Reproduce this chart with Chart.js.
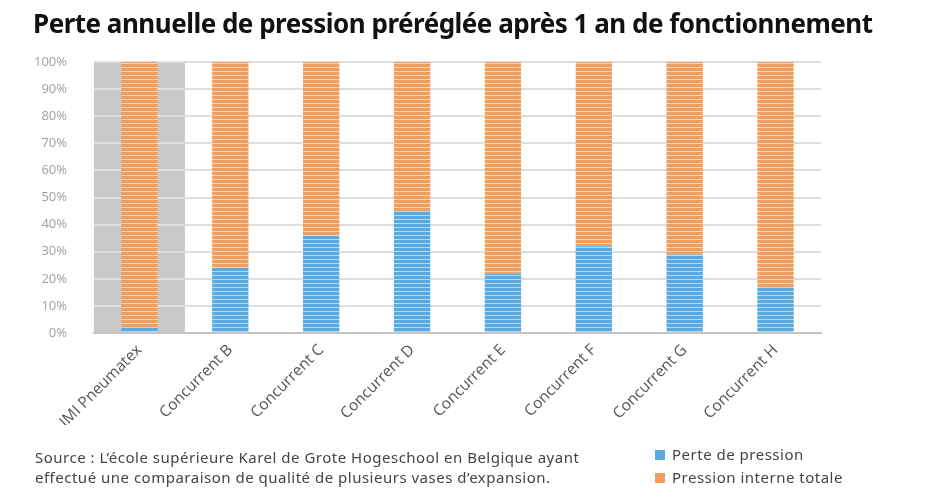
<!DOCTYPE html>
<html lang="fr">

<head>
  <meta charset="UTF-8">
  <title>Perte annuelle de pression</title>
  <script src="https://cdn.jsdelivr.net/npm/chart.js"></script>
  <style>
    body { margin: 0; background: #fff; }
    .wrap { position: relative; width: 930px; height: 500px; overflow: hidden; }
    .wrap canvas { position: absolute; left: 0; top: 0; }
    h1 {
      position: absolute; left: 33px; top: 5px; margin: 0;
      font: 700 26px "Noto Sans", sans-serif; color: #111; letter-spacing: -0.5px;
    }
    .source {
      position: absolute; left: 35px; top: 447px;
      font: 15px "Noto Sans", sans-serif; color: #444; line-height: 20px; letter-spacing: 0.5px;
    }
    .legend {
      position: absolute; left: 655px; top: 443px;
      font: 15px "Noto Sans", sans-serif; color: #444; line-height: 23px; letter-spacing: 0.5px;
    }
    .legend span.box { display: inline-block; width: 10px; height: 10px; margin-right: 7px; }
  </style>
</head>

<body>
  <div class="wrap">
    <canvas id="chart" width="930" height="500"></canvas>
    <h1>Perte annuelle de pression préréglée après 1 an de fonctionnement</h1>
    <div class="source">Source : L’école supérieure Karel de Grote Hogeschool en Belgique ayant<br>effectué une comparaison de qualité de plusieurs vases d’expansion.</div>
    <div class="legend">
      <div><span class="box" style="background:#5aa9e0"></span>Perte de pression</div>
      <div><span class="box" style="background:#ee9f5f"></span>Pression interne totale</div>
    </div>
  </div>

  <script>
    const categories = ['IMI Pneumatex', 'Concurrent B', 'Concurrent C', 'Concurrent D',
      'Concurrent E', 'Concurrent F', 'Concurrent G', 'Concurrent H'];
    const perteValues = [2, 24, 36, 45, 22, 32, 29, 17];
    const pressionValues = [98, 76, 64, 55, 78, 68, 71, 83];
    const yTicks = [0, 10, 20, 30, 40, 50, 60, 70, 80, 90, 100];

    // striped fill like the original bars
    function stripes(base, light) {
      const c = document.createElement('canvas');
      c.width = 4; c.height = 4;
      const g = c.getContext('2d');
      g.fillStyle = base; g.fillRect(0, 0, 4, 4);
      g.fillStyle = light; g.fillRect(0, 3, 4, 1);
      return g.createPattern(c, 'repeat');
    }

    // grey band behind the first category
    const bandPlugin = {
      id: 'band',
      beforeDraw(chart) {
        const { ctx, chartArea, scales } = chart;
        const right = scales.x.getPixelForValue(0.5);
        ctx.save();
        ctx.fillStyle = '#c8c8c8';
        ctx.fillRect(chartArea.left, chartArea.top, right - chartArea.left, chartArea.bottom - chartArea.top);
        ctx.restore();
      }
    };

    new Chart(document.getElementById('chart'), {
      type: 'bar',
      data: {
        labels: categories,
        datasets: [{
          label: 'Perte de pression',
          data: perteValues,
          backgroundColor: stripes('#5aa9e0', '#b3d9f3'),
          borderWidth: 0,
          barPercentage: 0.4,
          categoryPercentage: 1
        }, {
          label: 'Pression interne totale',
          data: pressionValues,
          backgroundColor: stripes('#ee9f5f', '#f8d4b2'),
          borderWidth: 0,
          barPercentage: 0.4,
          categoryPercentage: 1
        }]
      },
      options: {
        responsive: false,
        animation: false,
        layout: { padding: { left: 30, right: 109, top: 62, bottom: 75 } },
        plugins: { legend: { display: false }, title: { display: false }, tooltip: { enabled: false } },
        scales: {
          x: {
            stacked: true,
            afterFit: s => { s.height = 92; },
            grid: { display: false },
            border: { color: '#c4c4c4', width: 2 },
            ticks: {
              minRotation: 45, maxRotation: 45, padding: 0,
              color: '#555', font: { family: 'Open Sans', size: 15.5 }
            }
          },
          y: {
            stacked: true,
            min: 0, max: 100,
            afterFit: s => { s.width = 64; },
            afterBuildTicks: s => { s.ticks = yTicks.map(v => ({ value: v })); },
            grid: { color: '#dedede', lineWidth: 2, drawTicks: false },
            border: { display: false },
            ticks: {
              padding: 27,
              color: '#a0a0a0', font: { family: 'Open Sans', size: 13 },
              callback: v => v + '%'
            }
          }
        }
      },
      plugins: [bandPlugin]
    });
  </script>
</body>

</html>
